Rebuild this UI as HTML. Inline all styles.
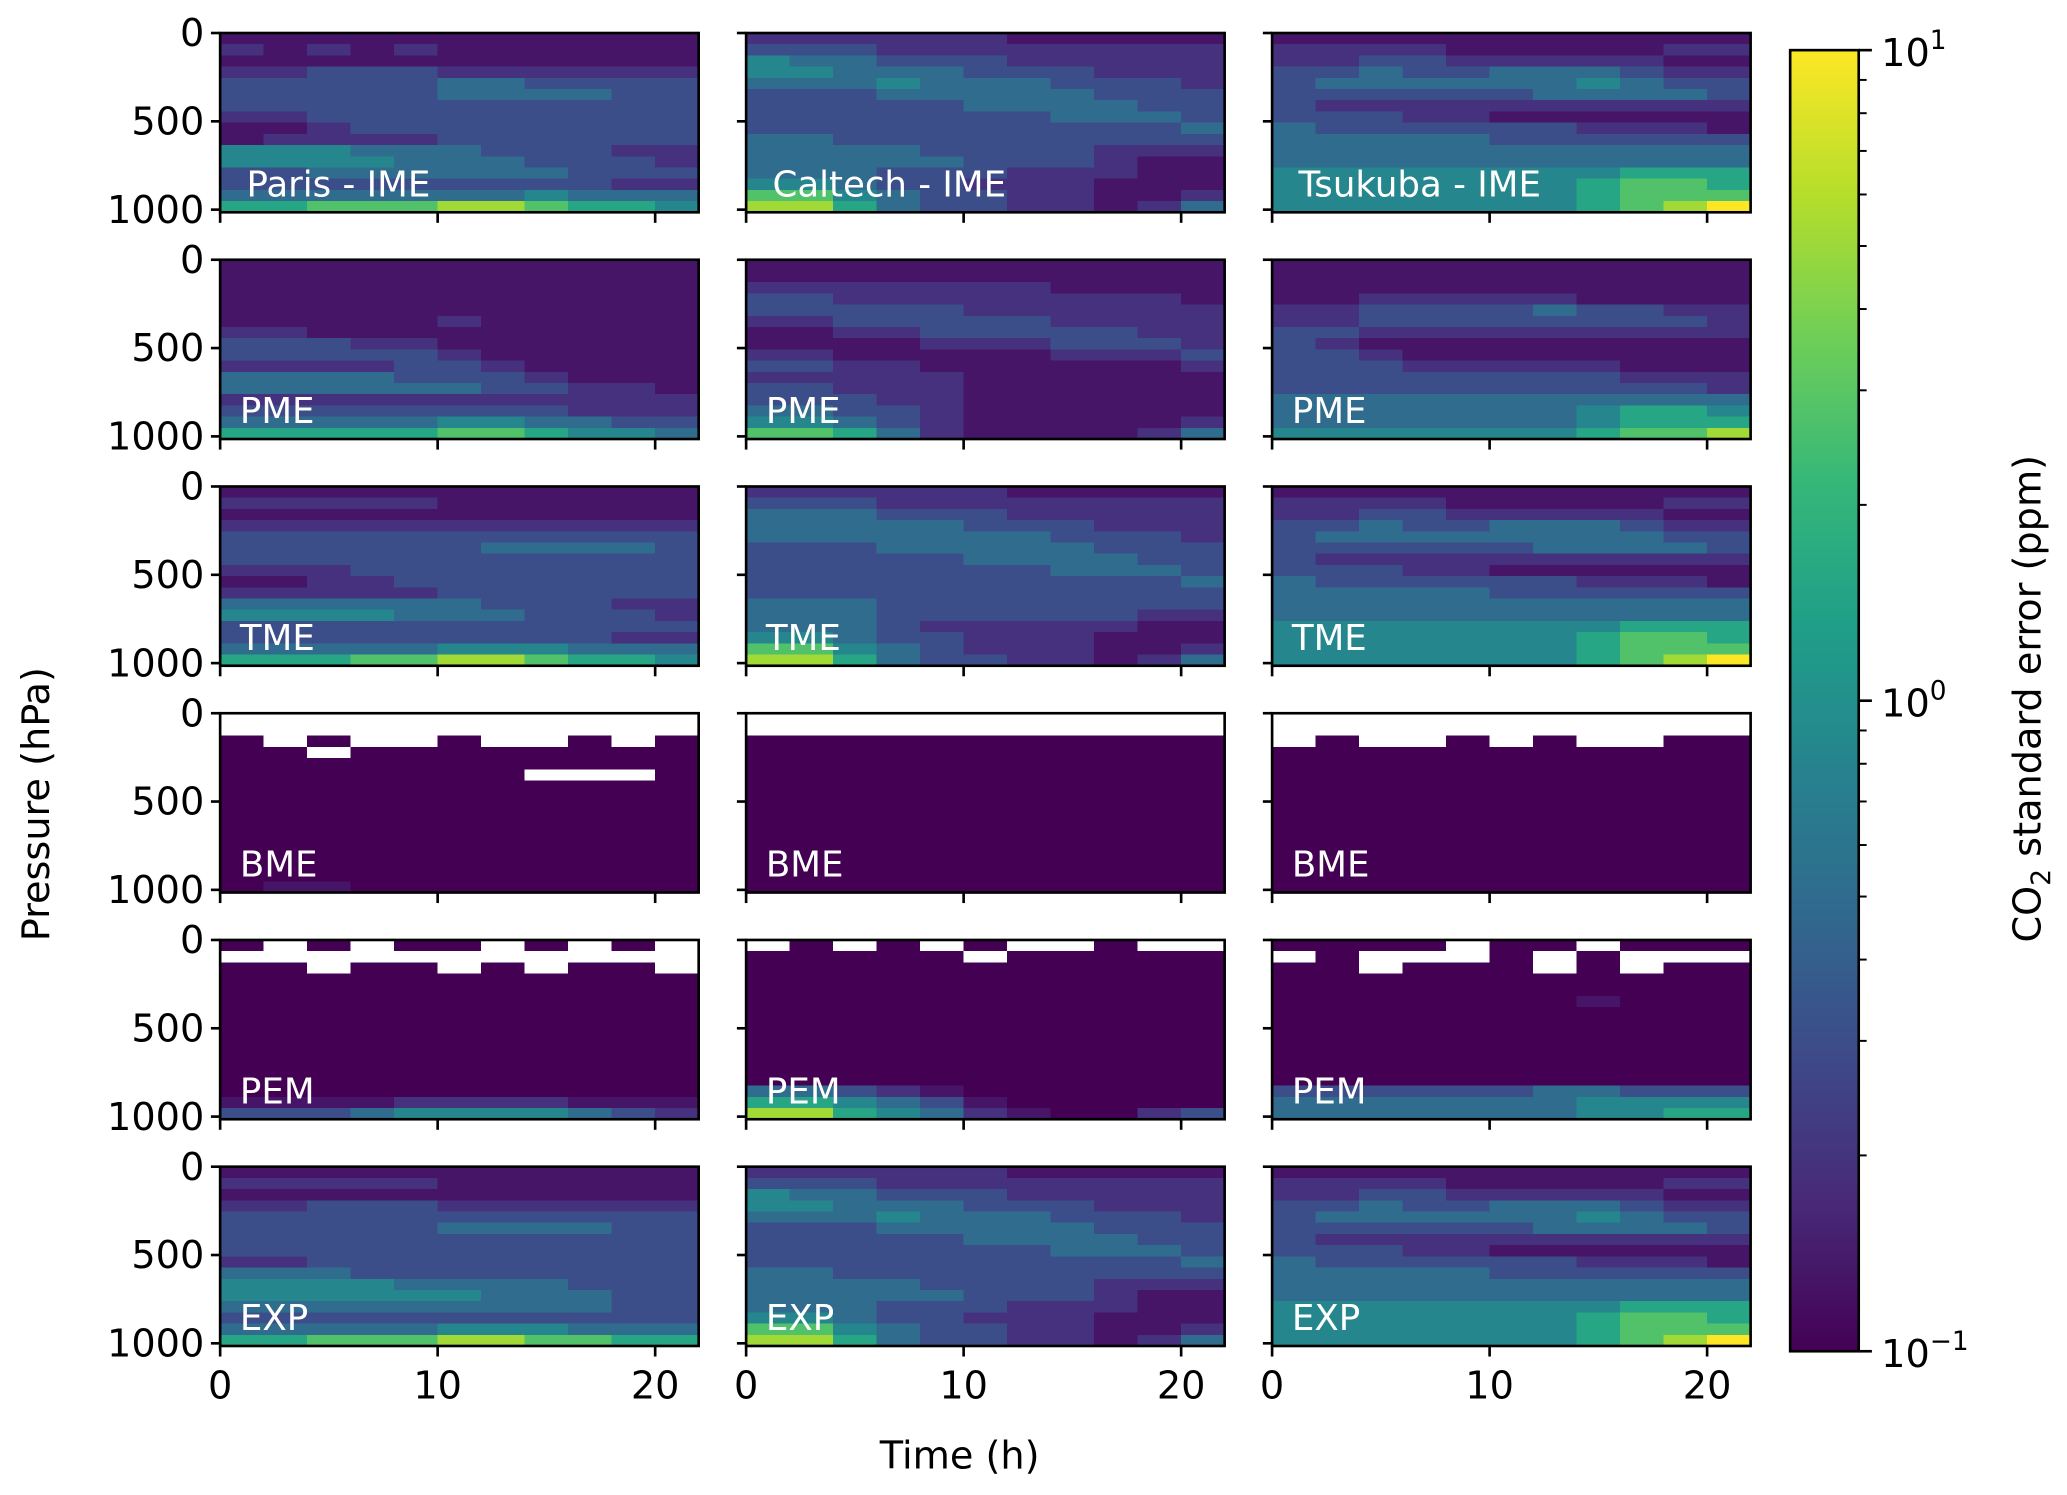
<!DOCTYPE html>
<html><head><meta charset="utf-8"><style>
html,body{margin:0;padding:0;background:#fff;}
svg{display:block;}
text{font-family:"DejaVu Sans","Liberation Sans",sans-serif;}
</style></head><body>
<svg id="fig" width="2067" height="1495" viewBox="0 0 1568 1134" xmlns="http://www.w3.org/2000/svg"></svg>
<script>
// ---- data (values are digit codes 0..9 -> error level; '.' = missing) ----
const timeTicks = [0, 10, 20];
const pressureTicks = [0, 500, 1000];
const sites = ["Paris", "Caltech", "Tsukuba"];
const methods = ["IME", "PME", "TME", "BME", "PEM", "EXP"];
const cbarMajor = [-1, 0, 1];
const cbarLabels = ["10", "10", "10"];
const cbarExps = ["\u22121", "0", "1"];

const parisIME = ["11111111111","21212111111","11111111111","22333222222","33333443333","33333444433","33333333333","22333333333","11233333333","12222333333","55544433322","55554443332","33444444333","33333333322","44444445444","66777887665"];
const parisPME = ["11111111111","11111111111","11111111111","11111111111","11111111111","11111211111","22111111111","33322111111","33333211111","22223321111","44443332111","44444433221","22222222222","33333333222","44444554433","66666776554"];
const parisTME = ["11111111111","22222111111","11111111111","22222222222","33333333333","33333344443","33333333333","22233333333","11223333333","22222333333","44444433322","55554443332","33333333333","33333333322","44444555444","66677887665"];
const parisBME = ["...........","...........","0.0..0..0.0","00.00000000","00000000000","0000000...0","00000000000","00000000000","00000000000","00000000000","00000000000","00000000000","00000000000","00000000000","00000000000","01100000000"];
const parisPEM = ["0.0.00.0.0.","...........","00.00.0.00.","00000000000","00000000000","00000000000","00000000000","00000000000","00000000000","00000000000","00000000000","00000000000","00000000000","00000000000","11112222111","33345555432"];
const parisEXP = ["11111111111","22222111111","11111111111","22333222222","33333333333","33333444433","33333333333","33333333333","22333333333","44433333333","55554444333","55555544433","44444444433","33333333333","44444555444","66777887766"];

const caltechIME = ["22222211111","33322222222","54433322222","55444333222","44454443332","33344444333","33333444433","33333334443","33333333334","44333333333","44443333222","44444333211","44433322211","55433222111","77543322112","88643322124"];
const caltechPME = ["11111111111","11111111111","22222221111","33222222221","33333222222","22333332222","11223333322","11112223332","22111112223","33221111112","22222111111","33222111111","33322111111","44332111111","55432111112","77642111124"];
const caltechTME = ["22222211111","33322222222","44433322222","44444333222","44444443332","33344444333","33333444433","33333334443","33333333334","33333333333","44433333333","44433333322","44432222211","55433222111","77543222112","88643322124"];
const caltechBME = ["...........","...........","00000000000","00000000000","00000000000","00000000000","00000000000","00000000000","00000000000","00000000000","00000000000","00000000000","00000000000","00000000000","00000000000","00000000000"];
const caltechPEM = [".0.0.0..0..","00000.00000","00000000000","00000000000","00000000000","00000000000","00000000000","00000000000","00000000000","00000000000","00000000000","00000000000","00000000000","44321000000","66543100000","88654210023"];
const caltechEXP = ["22222211111","33322222222","54433322222","55444333222","44454443332","33344444333","33333444433","33333334443","33333333334","44333333333","44443333222","44444333211","44433322211","55433222111","77543322112","88643322124"];

const tsukubaIME = ["11111111111","22221111122","22332222211","33433444322","34444445433","33333344443","32222222222","33322111111","43333332221","44444333333","44444444444","44444444444","55555555666","55555556776","55555556777","55555556789"];
const tsukubaPME = ["11111111111","11111111111","11111111111","11222221111","22333343322","22333333332","33222222222","32111111111","33211111111","33322222111","33333333222","33333333332","44444444444","44444445665","44444445666","55555556778"];
const tsukubaTME = ["11111111111","22221111122","22332222211","33433444322","34444444433","33333344443","32222222222","33322111111","43333332221","44444333333","44444444444","44444444444","55555555666","55555556776","55555556777","55555556789"];
const tsukubaBME = ["...........","...........",".0..0.0..00","00000000000","00000000000","00000000000","00000000000","00000000000","00000000000","00000000000","00000000000","00000000000","00000000000","00000000000","00000000000","00000000000"];
const tsukubaPEM = ["0000.00.000",".0...0.0...","00.000.0.00","00000000000","00000000000","00000001000","00000000000","00000000000","00000000000","00000000000","00000000000","00000000000","00000000000","33333344333","44444445555","44444445566"];
const tsukubaEXP = ["11111111111","22221111122","22332222211","33433444322","34444445433","33333344443","32222222222","33322111111","43333332221","44444333333","44444444444","44444444444","55555555666","55555556776","55555556777","55555556789"];

const grids = [
  [parisIME, caltechIME, tsukubaIME],
  [parisPME, caltechPME, tsukubaPME],
  [parisTME, caltechTME, tsukubaTME],
  [parisBME, caltechBME, tsukubaBME],
  [parisPEM, caltechPEM, tsukubaPEM],
  [parisEXP, caltechEXP, tsukubaEXP]
];

// ---- layout ----
const NS = "http://www.w3.org/2000/svg";
const svg = document.getElementById("fig");
const colX = [167, 566, 965], PW = 363, rowY0 = 25, rowStep = 172, PH = 136;
const T_MAX = 22, P_MAX = 1015;
const VIR = ["#440154","#482878","#3e4989","#31688e","#26828e","#1f9e89","#35b779","#6ece58","#b5de2b","#fde725"];

function mk(tag, attrs, parent) {
  const e = document.createElementNS(NS, tag);
  for (const k in attrs) e.setAttribute(k, attrs[k]);
  (parent || svg).appendChild(e);
  return e;
}
function hexToRgb(h){return [1,3,5].map(i=>parseInt(h.substr(i,2),16));}
function viridis(t){
  t=Math.max(0,Math.min(1,t));
  const s=t*(VIR.length-1), i=Math.min(VIR.length-2,Math.floor(s)), f=s-i;
  const a=hexToRgb(VIR[i]), b=hexToRgb(VIR[i+1]);
  return "rgb("+a.map((v,k)=>Math.round(v+(b[k]-v)*f)).join(",")+")";
}
function levelToT(d){ return Math.pow(d/9, 1.3); }
function xScale(c, t){ return colX[c] + t / T_MAX * PW; }
function yScale(r, p){ return rowY0 + r*rowStep + p / P_MAX * PH; }

const panelLabels = (r,c) => r===0 ? sites[c]+" - "+methods[r] : methods[r];

for (let r = 0; r < 6; r++) {
  for (let c = 0; c < 3; c++) {
    const g = mk("g", {});
    
    
    const grid = grids[r][c];
    const nR = grid.length, nC = grid[0].length;
    for (let i = 0; i < nR; i++) {
      for (let j = 0; j < nC; j++) {
        const ch = grid[i][j];
        const x0 = xScale(c, j*T_MAX/nC), x1 = xScale(c, (j+1)*T_MAX/nC);
        const y0 = yScale(r, i*P_MAX/nR), y1 = yScale(r, (i+1)*P_MAX/nR);
        const fill = ch === "." ? "#ffffff" : viridis(levelToT(parseInt(ch,10)));
        const cell = mk("rect", {x:x0, y:y0, width:x1-x0+0.6, height:y1-y0+0.6, fill:fill, "shape-rendering":"crispEdges"}, g);
        
        
      }
    }
    const frame = mk("rect", {x:colX[c], y:yScale(r,0), width:PW, height:PH, fill:"none", stroke:"#000", "stroke-width":2}, g);
    
    
    const lab = mk("text", {x:colX[c]+(r===0?20:15), y:yScale(r,0)+PH-12, fill:"#fff", "font-size":27}, g);
    lab.textContent = panelLabels(r,c);
    
    
    pressureTicks.forEach(p => {
      const y = yScale(r, p);
      const tk = mk("line", {x1:colX[c]-7, x2:colX[c], y1:y, y2:y, stroke:"#000", "stroke-width":2}, g);
      
      
      if (c === 0) {
        const tl = mk("text", {x:colX[c]-12, y:y+10, "text-anchor":"end", "font-size":29}, g);
        tl.textContent = p;
        
        
      }
    });
    timeTicks.forEach(t => {
      const x = xScale(c, t), yb = yScale(r,0)+PH;
      const tk = mk("line", {x1:x, x2:x, y1:yb, y2:yb+8, stroke:"#000", "stroke-width":2}, g);
      
      
      if (r === 5) {
        const tl = mk("text", {x:x, y:yb+40, "text-anchor":"middle", "font-size":29}, g);
        tl.textContent = t;
        
        
      }
    });
  }
}

const yt = mk("text", {x:0, y:0, transform:"translate(37,610) rotate(-90)", "text-anchor":"middle", "font-size":29});
yt.textContent = "Pressure (hPa)";


const xt = mk("text", {x:728, y:1114, "text-anchor":"middle", "font-size":29});
xt.textContent = "Time (h)";



const cbX = 1358, cbW = 52, cbTop = 38, cbBot = 1025;
const defs = mk("defs", {});
const lg = mk("linearGradient", {id:"vir", x1:0, y1:1, x2:0, y2:0}, defs);
VIR.forEach((col,i)=> mk("stop", {offset:(i/(VIR.length-1)), "stop-color":col}, lg));
const cb = mk("rect", {x:cbX, y:cbTop, width:cbW, height:cbBot-cbTop, fill:"url(#vir)", stroke:"#000", "stroke-width":2});


function cbY(lv){ return cbBot - (lv + 1) / 2 * (cbBot - cbTop); }
cbarMajor.forEach((lv,i)=>{
  const y = cbY(lv);
  const tk = mk("line", {x1:cbX+cbW, x2:cbX+cbW+10, y1:y, y2:y, stroke:"#000", "stroke-width":2});
  
  
  const tl = mk("text", {x:cbX+cbW+17, y:y+12, "font-size":29});
  tl.textContent = cbarLabels[i];
  const sup = mk("tspan", {dy:-13, "font-size":20}, tl);
  sup.textContent = cbarExps[i];
  
  
});
[-1, 0].forEach(d => {
  for (let k = 2; k <= 9; k++) {
    const y = cbY(d + Math.log10(k));
    const tk = mk("line", {x1:cbX+cbW, x2:cbX+cbW+6, y1:y, y2:y, stroke:"#000", "stroke-width":1.5});
    
    
  }
});
const ct = mk("text", {x:0, y:0, transform:"translate(1548,530) rotate(-90)", "text-anchor":"middle", "font-size":29});
ct.appendChild(document.createTextNode("CO"));
const sub = mk("tspan", {dy:7, "font-size":20}, ct); sub.textContent = "2";
const rest = mk("tspan", {dy:-7}, ct); rest.textContent = " standard error (ppm)";


</script>
</body></html>
